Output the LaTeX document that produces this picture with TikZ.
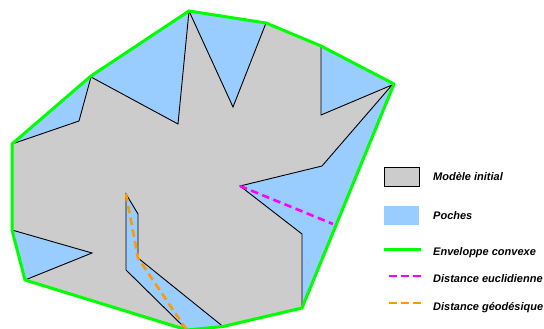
\documentclass[tikz,border=0pt]{standalone}
\usepackage{fontspec}
\setmainfont{Liberation Sans}
\definecolor{modele}{RGB}{204,204,204}
\definecolor{poche}{RGB}{153,204,255}
\definecolor{hull}{RGB}{0,255,0}
\definecolor{eucl}{RGB}{255,0,255}
\definecolor{geod}{RGB}{255,153,0}
\tikzset{
  modelstyle/.style={draw=black,fill=modele,line width=0.9pt,line join=miter},
  hullstyle/.style={draw=hull,line width=3pt,line join=round},
  eucstyle/.style={draw=eucl,line width=2.6pt,dash pattern=on 7.5pt off 4.5pt},
  geostyle/.style={draw=geod,line width=2.6pt,dash pattern=on 7.5pt off 4.5pt},
  legendtext/.style={anchor=west,inner sep=0pt,font=\fontsize{11}{13}\selectfont\bfseries\itshape}
}
\begin{document}
\begin{tikzpicture}[x=1pt,y=-1pt]
\useasboundingbox (0,0) rectangle (544,329);
\begin{scope}
\clip (0,0) rectangle (544,329);
% poches (interior of the hull)
\fill[poche] (189,11) -- (266,23) -- (321,46) -- (394,84) -- (302,308) -- (223,326.5) -- (187,330) -- (25,280) -- (12,230) -- (12,144) -- (91,76) -- cycle;
% modele initial
\path[modelstyle] (12,144) -- (79,121) -- (91,77) -- (178,124) -- (189,11) -- (233,107) -- (266,23) -- (321,46) -- (321,115) -- (392,85) -- (322,166) -- (240,186) -- (302,234) -- (302,308) -- (223,326.5) -- (138,258) -- (138,214) -- (126,194) -- (126,270) -- (186,329) -- (25,280) -- (92,253) -- (12,230) -- cycle;
% enveloppe
\draw[hullstyle] (189,11) -- (266,23) -- (321,46) -- (394,84) -- (302,308) -- (223,326.5) -- (187,330) -- (25,280) -- (12,230) -- (12,144) -- (91,76) -- cycle;
% distances
\draw[eucstyle] (240,186) -- (333,224);
\draw[geostyle] (126,194) -- (138,258) -- (186,329);
\end{scope}
% legende
\node[modelstyle,minimum width=35pt,minimum height=19pt,inner sep=0pt] (lgmodel) at (401.5,176.5) {};
\node[fill=poche,minimum width=35pt,minimum height=19pt,inner sep=0pt] (lgpoche) at (401.5,215.5) {};
\coordinate (hulla) at (384,249); \coordinate (hullb) at (421,249);
\coordinate (euca) at (389,276); \coordinate (eucb) at (421,276);
\coordinate (geoa) at (389,303); \coordinate (geob) at (421,303);
\draw[hullstyle] (hulla) -- (hullb);
\draw[eucstyle] (euca) -- (eucb);
\draw[geostyle] (geoa) -- (geob);
\node[legendtext] (tmodel) at (433,177) {Modèle initial};
\node[legendtext] (tpoche) at (433,216) {Poches};
\node[legendtext] (thull) at (433,253) {Enveloppe convexe};
\node[legendtext] (teuc) at (433,279) {Distance euclidienne};
\node[legendtext] (tgeo) at (433,308) {Distance géodésique};
\end{tikzpicture}
\end{document}
